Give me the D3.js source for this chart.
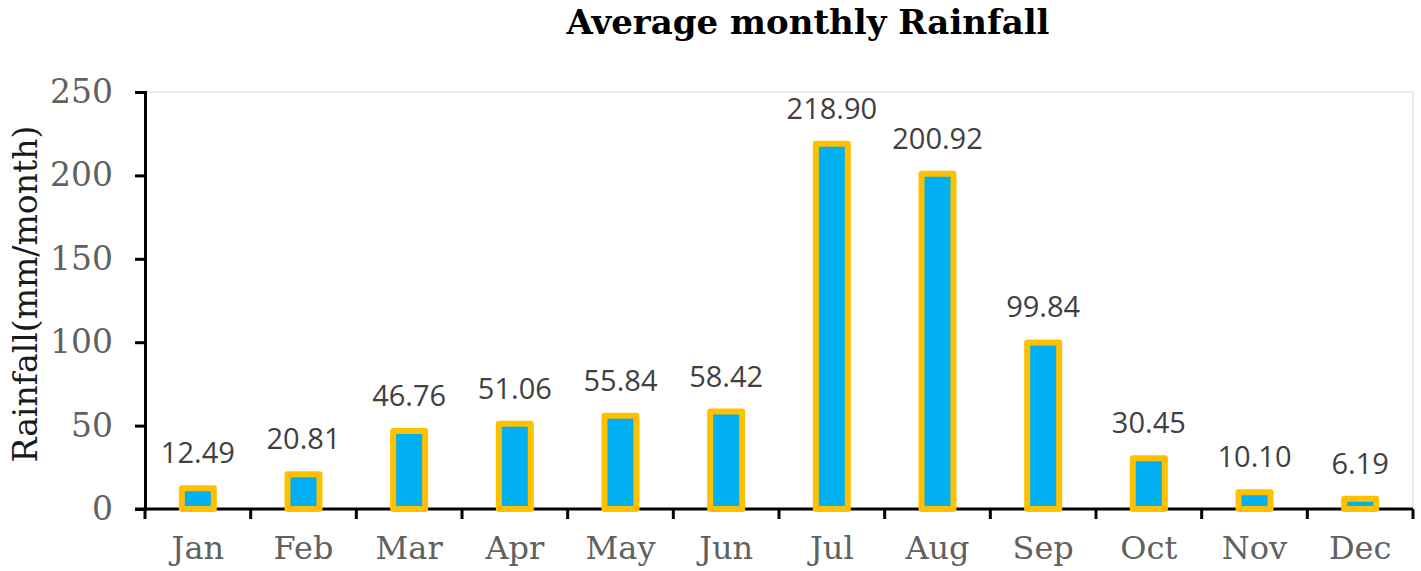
<!DOCTYPE html>
<html>
<head>
<meta charset="utf-8">
<script src="https://cdn.jsdelivr.net/npm/d3@7"></script>
<style>
  body { margin: 0; background: #fff; }
  svg { display: block; }
</style>
</head>
<body>
<svg id="chart" width="1421" height="571"></svg>
<script>
// chart data
var months = ["Jan", "Feb", "Mar", "Apr", "May", "Jun", "Jul", "Aug", "Sep", "Oct", "Nov", "Dec"];
var rainfall = [12.49, 20.81, 46.76, 51.06, 55.84, 58.42, 218.90, 200.92, 99.84, 30.45, 10.10, 6.19];
var yTicks = [0, 50, 100, 150, 200, 250];

var svg = d3.select("#chart");
var margin = { left: 145, right: 8, top: 92, bottom: 62 };
var width = 1421 - margin.left - margin.right;
var height = 571 - margin.top - margin.bottom;

var x = d3.scaleBand().domain(months).range([0, width]);
var y = d3.scaleLinear().domain([0, 250]).range([height, 0]);

var g = svg.append("g")
    .attr("transform", "translate(" + margin.left + "," + margin.top + ")");

// faint plot area border (top and right show)
g.append("rect")
    .attr("x", 0).attr("y", 0)
    .attr("width", width).attr("height", height)
    .attr("fill", "none")
    .attr("stroke", "#e6e6e6")
    .attr("stroke-width", 1.5);

// title
svg.append("text")
    .attr("x", 808)
    .attr("y", 34)
    .attr("text-anchor", "middle")
    .attr("font-family", "DejaVu Serif")
    .attr("font-weight", "bold")
    .attr("font-size", 34)
    .attr("fill", "#000")
    .text("Average monthly Rainfall");

// y axis title
svg.append("text")
    .attr("transform", "translate(37,294) rotate(-90)")
    .attr("text-anchor", "middle")
    .attr("font-family", "DejaVu Serif")
    .attr("font-size", 33)
    .attr("fill", "#1a1a1a")
    .attr("textLength", 337)
    .attr("lengthAdjust", "spacingAndGlyphs")
    .text("Rainfall(mm/month)");

// y axis
var yAxis = g.append("g")
    .call(d3.axisLeft(y).tickValues(yTicks).tickSize(10).tickPadding(22).tickFormat(d3.format("d")));
yAxis.select(".domain").attr("stroke", "#000").attr("stroke-width", 3);
yAxis.selectAll(".tick line").attr("stroke", "#000").attr("stroke-width", 3);
yAxis.selectAll(".tick text")
    .attr("font-family", "DejaVu Serif")
    .attr("font-size", 33)
    .attr("fill", "#616161");

// x axis: line plus ticks at category boundaries
var boundaries = d3.range(months.length + 1).map(function(i) { return i * x.step(); });
g.append("line")
    .attr("x1", -10).attr("x2", width)
    .attr("y1", height).attr("y2", height)
    .attr("stroke", "#000")
    .attr("stroke-width", 3);
g.selectAll(".xtick")
    .data(boundaries)
    .enter()
    .append("line")
    .attr("class", "xtick")
    .attr("x1", function(d) { return d; })
    .attr("x2", function(d) { return d; })
    .attr("y1", height)
    .attr("y2", height + 10)
    .attr("stroke", "#000")
    .attr("stroke-width", 3);
g.selectAll(".xlabel")
    .data(months)
    .enter()
    .append("text")
    .attr("class", "xlabel")
    .attr("x", function(d) { return x(d) + x.bandwidth() / 2; })
    .attr("y", height + 50)
    .attr("text-anchor", "middle")
    .attr("font-family", "DejaVu Serif")
    .attr("font-size", 32)
    .attr("fill", "#616161")
    .text(function(d) { return d; });

// bars
var barWidth = 32;
g.selectAll(".bar")
    .data(rainfall)
    .enter()
    .append("rect")
    .attr("class", "bar")
    .attr("x", function(d, i) { return x(months[i]) + x.bandwidth() / 2 - barWidth / 2; })
    .attr("y", function(d) { return y(d); })
    .attr("width", barWidth)
    .attr("height", function(d) { return y(0) - y(d); })
    .attr("fill", "#00B0F0")
    .attr("stroke", "#FFC000")
    .attr("stroke-width", 6)
    .attr("stroke-linejoin", "round");

// value labels
g.selectAll(".value")
    .data(rainfall)
    .enter()
    .append("text")
    .attr("class", "value")
    .attr("x", function(d, i) { return x(months[i]) + x.bandwidth() / 2; })
    .attr("y", function(d) { return y(d) - 25; })
    .attr("text-anchor", "middle")
    .attr("font-family", "Open Sans")
    .attr("font-size", 29)
    .attr("fill", "#404040")
    .text(function(d) { return d.toFixed(2); });
</script>
</body>
</html>
